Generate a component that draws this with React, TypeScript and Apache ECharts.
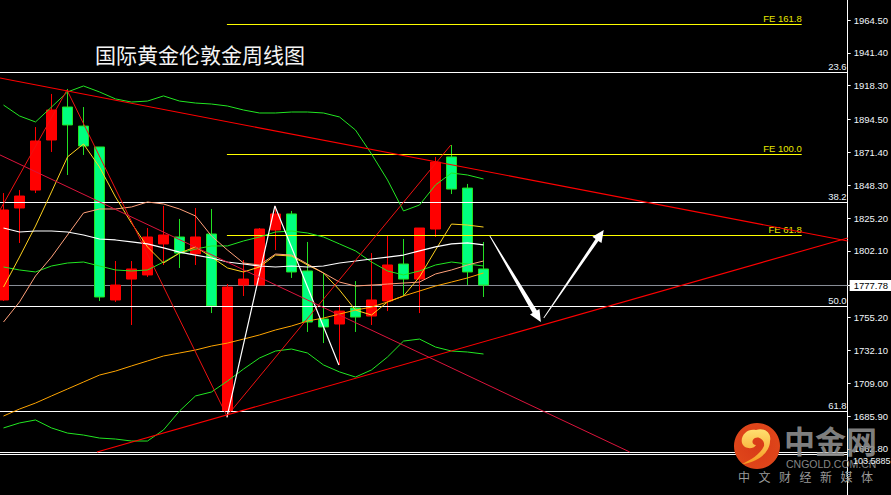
import React, { useEffect, useRef } from "react";
import * as echarts from "echarts";

const bars = Array.from({ length: 53 }, (_, i) => String(i));
const opens = [1767.6,1832.3,1844.9,1880.1,1903.3,1889.9,1875.2,1767.6,1782.3,1785.2,1807.0,1811.9,1800.0,1814.0,1689.5,1778.1,1778.1,1816.8,1828.1,1788.0,1754.2,1750.7,1762.0,1756.3,1766.9,1792.9,1782.3,1817.5,1868.2,1846.3,1789.4];
const closes = [1830.9,1840.7,1879.4,1901.2,1890.7,1875.9,1769.7,1778.1,1789.4,1811.9,1813.3,1800.6,1811.9,1763.4,1776.7,1782.3,1817.5,1828.1,1787.3,1752.1,1748.6,1759.8,1755.6,1767.6,1792.2,1782.3,1818.2,1864.6,1845.6,1787.3,1778.1];
const lows = [1766.9,1807.7,1842.8,1871.7,1855.5,1869.6,1766.9,1766.2,1750.0,1783.8,1792.2,1790.1,1792.2,1758.4,1685.3,1770.4,1778.1,1802.7,1783.1,1745.1,1737.3,1721.9,1745.1,1750.0,1759.8,1770.4,1758.4,1811.9,1842.1,1778.1,1769.7];
const highs = [1842.8,1844.9,1889.2,1912.5,1916.0,1903.3,1875.2,1795.0,1795.0,1818.2,1833.7,1824.6,1832.3,1831.6,1778.8,1795.7,1818.2,1833.7,1830.2,1808.4,1786.6,1764.1,1780.9,1800.6,1812.6,1810.5,1818.2,1868.2,1876.6,1849.2,1808.4];

const bandUpper = [1904.7,1897.0,1892.8,1903.3,1913.9,1918.1,1913.9,1909.0,1906.8,1907.5,1911.1,1907.5,1906.1,1905.4,1904.0,1901.2,1899.1,1899.1,1899.8,1899.8,1899.1,1896.3,1887.1,1870.3,1852.0,1830.2,1834.4,1848.5,1856.9,1855.5,1852.7];
const bandMiddle = [1790.8,1788.7,1787.3,1791.5,1793.6,1794.3,1791.5,1788.7,1788.0,1788.7,1794.3,1800.6,1803.4,1805.6,1805.6,1809.1,1811.9,1815.4,1816.1,1814.7,1811.9,1807.0,1802.1,1794.3,1788.0,1785.2,1788.0,1792.2,1794.3,1792.9,1791.5];
const bandLower = [1677.6,1681.1,1683.2,1677.6,1674.0,1672.6,1670.5,1669.8,1668.4,1668.4,1676.2,1689.5,1700.1,1702.9,1710.6,1719.0,1726.8,1731.7,1733.1,1730.3,1721.9,1717.0,1713.4,1718.4,1727.5,1738.7,1740.1,1734.5,1731.7,1731.0,1729.6];
const maFast = [1776.7,1797.8,1819.6,1843.6,1868.2,1877.3,1861.1,1840.0,1821.7,1804.9,1793.6,1800.6,1804.9,1797.8,1790.1,1787.3,1790.8,1799.2,1798.5,1792.2,1786.6,1774.6,1760.5,1757.0,1766.2,1770.4,1783.8,1802.7,1821.0,1820.3,1818.9];
const maMid = [1752.1,1766.2,1784.5,1797.8,1813.3,1828.8,1831.6,1831.6,1833.0,1836.5,1835.1,1831.6,1826.7,1812.6,1802.7,1793.6,1792.2,1799.9,1799.2,1792.9,1786.6,1780.2,1777.4,1778.1,1778.8,1779.5,1780.2,1785.9,1788.7,1792.2,1795.0];
const maSlow = [1686.0,1690.9,1695.1,1700.1,1705.0,1709.9,1714.8,1717.6,1721.2,1724.7,1728.2,1730.3,1732.4,1735.2,1737.3,1740.1,1743.0,1746.5,1749.3,1752.8,1754.9,1757.7,1760.5,1762.6,1766.2,1770.4,1773.9,1777.4,1780.2,1783.1,1786.6];
const maWhite = [1818.2,1815.4,1816.1,1816.1,1815.4,1813.3,1810.5,1809.8,1808.4,1807.0,1804.2,1801.3,1799.2,1797.1,1794.3,1792.9,1791.5,1790.8,1791.5,1790.8,1791.5,1793.6,1795.0,1796.4,1797.8,1799.2,1802.1,1804.9,1807.0,1807.7,1806.3];

const priceTicks = [1964.5,1941.4,1918.3,1894.5,1871.4,1848.3,1825.2,1802.1,1755.2,1732.1,1709.0,1685.9,1662.8];
const lastPrice = 1777.78;
const priceTop = 1978.57;
const priceBottom = 1630.44;
const barLeft = -0.1875;
const barRight = 52.8125;

const fibNames = ["23.6","38.2","50.0","61.8",""];
const fibPrices = [1927.58,1836.15,1763.01,1689.16,1660.33,1658.92];
const feNames = ["FE 161.8","FE 100.0","FE 61.8"];
const fePrices = [1961.34,1869.91,1812.94];
const feStart = 14;
const feEnd = 49.94;

const redZigzag = [[-0.1875,1830.9],[4,1915.3],[14,1686.0],[28,1876.6]];
const whiteZigzag = [[14,1685.0],[17,1833.7],[21,1721.9]];
const trendTop = [[-0.1875,1923.7],[52.8125,1809.1]];
const trendBottom = [[5.875,1660.7],[52.8125,1811.2]];
const trendCrimson = [[-0.1875,1869.6],[39.1875,1660.7]];
const arrows = [
  [30.44,1812.6,33.63,1752.1,5],
  [33.81,1754.9,37.56,1816.8,3.4],
];

echarts.graphic.registerShape(
  "cngoldSwirl",
  echarts.graphic.extendPath(
    "M8 20 C6 12 14 5 22 7 C30 4 38 10 36 18 C36 26 30 33 22 37 C18 39 12 41 8 41 C16 37 26 32 30 23 C31 17 25 13 21 15 C17 17 18 22 22 22 C19 27 10 26 8 20 Z",
    {}
  ) as any
);

const AXIS_FONT = "Liberation Sans";

function thin(name: string, data: number[], color: string, width = 1): any {
  return {
    name, type: "line", data, xAxisIndex: 0, yAxisIndex: 0,
    showSymbol: false, symbol: "none", silent: true, z: 5,
    lineStyle: { color, width },
  };
}

function segment(name: string, data: number[][], color: string, width: number): any {
  return {
    name, type: "line", data, xAxisIndex: 1, yAxisIndex: 1,
    showSymbol: false, symbol: "none", silent: true, z: 6,
    lineStyle: { color, width },
  };
}

function level(name: string, x0: number, x1: number, y: number, color: string, labelColor: string, labelOpts: any = {}): any {
  return {
    name: `level ${name}`, type: "line", xAxisIndex: 1, yAxisIndex: 1,
    symbol: "circle", symbolSize: 0, showSymbol: true, showAllSymbol: true, silent: true, z: 4, clip: false,
    lineStyle: { color, width: 1 },
    itemStyle: { color, opacity: 0 },
    data: [
      [x0, y],
      {
        value: [x1, y],
        label: {
          show: !!name, position: "top", align: "right", distance: 1,
          formatter: name, color: labelColor, fontFamily: AXIS_FONT, fontSize: 9.5, opacity: 1,
          ...labelOpts,
        },
      },
    ],
  };
}

export default function App() {
  const ref = useRef<HTMLDivElement>(null);
  useEffect(() => {
    document.body.style.margin = "0";
    document.body.style.background = "#000";
    const chart = echarts.init(ref.current!, undefined, { renderer: "svg" });
    const candleData = opens.map((o, i) => [o, closes[i], lows[i], highs[i]]);
    const grayText = "#858585";
    chart.setOption({
      animation: false,
      backgroundColor: "#000000",
      grid: [
        { left: 3.5, top: 0, width: 832, height: 495 },
        { left: 0, top: 0, width: 848, height: 495 },
      ],
      xAxis: [
        { type: "category", gridIndex: 0, data: bars, show: false, boundaryGap: false },
        { type: "value", gridIndex: 1, min: barLeft, max: barRight, show: false },
      ],
      yAxis: [
        { type: "value", gridIndex: 0, min: priceBottom, max: priceTop, show: false, scale: true },
        {
          type: "value", gridIndex: 1, position: "right", min: priceBottom, max: priceTop, scale: true,
          splitLine: { show: false },
          axisLine: { show: true, onZero: false, lineStyle: { color: "#ffffff", width: 1 } },
          axisTick: { show: true, length: 3, lineStyle: { color: "#ffffff" }, customValues: [...priceTicks, lastPrice] },
          axisLabel: {
            show: true, margin: 6, color: "#f2f6fa", fontFamily: AXIS_FONT, fontSize: 9.5,
            customValues: priceTicks,
            formatter: (v: number) => v.toFixed(2),
          },
        },
      ],
      series: [
        {
          name: "gold", type: "candlestick", xAxisIndex: 0, yAxisIndex: 0, data: candleData,
          barWidth: 11, silent: true, z: 2, clip: false,
          itemStyle: {
            color: "#ff0000", borderColor: "#ff0000", color0: "#00ff7f", borderColor0: "#22e022", borderWidth: 1,
          },
        },
        thin("band upper", bandUpper, "#22e622"),
        thin("band middle", bandMiddle, "#22e622"),
        thin("band lower", bandLower, "#22e622"),
        thin("ma fast", maFast, "#ffd21e"),
        thin("ma mid", maMid, "#ffa07a"),
        thin("ma slow", maSlow, "#ffa500"),
        thin("ma white", maWhite, "#ffffff", 1.2),
        segment("zigzag red", redZigzag, "#ee1111", 1),
        segment("zigzag white", whiteZigzag, "#ffffff", 1.2),
        segment("trend top", trendTop, "#ff0000", 1.1),
        segment("trend bottom", trendBottom, "#ff0000", 1.1),
        segment("trend crimson", trendCrimson, "#dc143c", 1),
        ...fibPrices.map((p, i) => level(fibNames[i] || "", barLeft, barRight, p, "#ffffff", "#e8f2fa", { offset: [-1, 0] })),
        ...fePrices.map((p, i) => level(feNames[i], feStart, feEnd, p, "#ffff00", "#e8e800")),
        {
          name: "last", type: "line", xAxisIndex: 1, yAxisIndex: 1,
          symbol: "circle", symbolSize: 0, showSymbol: true, showAllSymbol: true, silent: true, z: 1, clip: false,
          lineStyle: { color: "#8a8f98", width: 1 },
          itemStyle: { opacity: 0 },
          data: [
            [barLeft, lastPrice],
            {
              value: [barRight, lastPrice],
              label: {
                show: true, position: "right", distance: 2, formatter: lastPrice.toFixed(2), opacity: 1,
                color: "#000000", backgroundColor: "#ffffff", fontFamily: AXIS_FONT, fontSize: 9.5,
                padding: [1, 4, 0, 4], lineHeight: 10,
              },
            },
          ],
        },
        {
          name: "arrows", type: "custom", xAxisIndex: 1, yAxisIndex: 1, data: arrows, silent: true, z: 7, clip: false,
          encode: { x: [0, 2], y: [1, 3] },
          renderItem: (_: any, api: any) => {
            const s = api.coord([api.value(0), api.value(1)]);
            const e = api.coord([api.value(2), api.value(3)]);
            const w = api.value(4) as number;
            const dx = e[0] - s[0], dy = e[1] - s[1];
            const len = Math.hypot(dx, dy);
            const ux = dx / len, uy = dy / len, nx = -uy, ny = ux;
            const hb = [e[0] - ux * 12, e[1] - uy * 12];
            const pts = [
              [s[0] + nx * 0.4, s[1] + ny * 0.4],
              [hb[0] + nx * w / 2, hb[1] + ny * w / 2],
              [hb[0] + nx * 5.5, hb[1] + ny * 5.5],
              e,
              [hb[0] - nx * 5.5, hb[1] - ny * 5.5],
              [hb[0] - nx * w / 2, hb[1] - ny * w / 2],
              [s[0] - nx * 0.4, s[1] - ny * 0.4],
            ];
            return { type: "polygon", shape: { points: pts }, style: { fill: "#ffffff" } };
          },
        },
      ],
      graphic: [
        {
          type: "text", x: 95, y: 43, z: 20,
          style: { text: "国际黄金伦敦金周线图", fill: "#f4f4f4", fontFamily: "Noto Sans CJK SC", fontSize: 21 },
        },
        {
          type: "circle", z: 30, shape: { cx: 757, cy: 446, r: 23 },
          style: {
            fill: new echarts.graphic.RadialGradient(0.5, 0.5, 0.6, [
              { offset: 0, color: "#d83a18" },
              { offset: 1, color: "#e0481a" },
            ]),
          },
        },
        {
          type: "cngoldSwirl", z: 31, x: 734, y: 423,
          style: {
            fill: new echarts.graphic.LinearGradient(0, 0, 0, 1, [
              { offset: 0, color: "#ffe070" },
              { offset: 1, color: "#f59a20" },
            ]),
          },
        },
        {
          type: "text", x: 784, y: 424, z: 32,
          style: { text: "中金网", fill: "rgba(140,140,140,0.92)", fontFamily: "Noto Sans CJK SC", fontWeight: 700, fontSize: 31 },
        },
        {
          type: "text", x: 786, y: 458, z: 32,
          style: { text: "CNGOLD.COM.CN", fill: grayText, fontFamily: "Liberation Sans", fontSize: 10.5 },
        },
        {
          type: "text", x: 853, y: 456, z: 33,
          style: { text: "103.5885", fill: "#f0f4f8", fontFamily: AXIS_FONT, fontSize: 9 },
        },
        ...["中", "文", "财", "经", "新", "媒", "体"].map((t, i) => ({
          type: "text", x: 738 + i * 20.5, y: 470, z: 32,
          style: { text: t, fill: "#9a9a9a", fontFamily: "Noto Sans CJK SC", fontSize: 12 },
        })),
      ],
    });
    return () => chart.dispose();
  }, []);
  return <div ref={ref} style={{ position: "absolute", left: 0, top: 0, width: 891, height: 495 }} />;
}
